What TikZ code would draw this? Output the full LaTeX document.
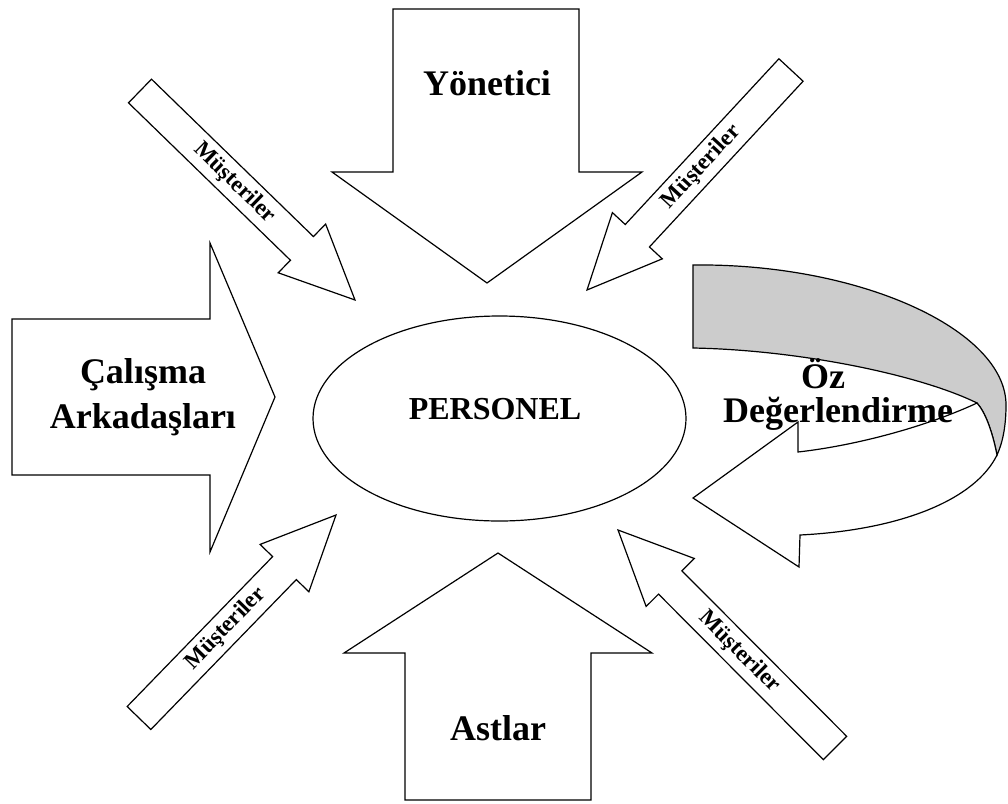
\documentclass[tikz,border=0pt]{standalone}
\usepackage{fontspec}
\setmainfont{Liberation Serif}
\usetikzlibrary{calc,shapes.geometric}

% diagonal arrow: tail, tip, node name, label
\newcommand{\musarrow}[4]{%
  \path let \p1=($(#2)-(#1)$) in \pgfextra{\xdef\musdx{\x1}\xdef\musdy{\y1}};
  \pgfmathsetmacro\musang{atan2(\musdy,\musdx)}
  \pgfmathsetmacro\muslen{veclen(\musdx,\musdy)}
  \pgfmathsetmacro\mushead{\muslen-74}
  \pgfmathsetmacro\muspos{0.44*\muslen}
  \pgfmathsetmacro\mustext{\musang>90 ? \musang-180 : (\musang<-90 ? \musang+180 : \musang)}
  \begin{scope}[shift={(#1)},rotate=\musang]
    \draw[blockarrow] (0pt,-16.5pt) -- (\mushead pt,-16.5pt) -- (\mushead pt,-34pt) -- (\muslen pt,0pt)
      -- (\mushead pt,34pt) -- (\mushead pt,16.5pt) -- (0pt,16.5pt) -- cycle;
    \node[smalltext,rotate=\mustext] (#3) at (\muspos pt,0pt) {#4};
  \end{scope}}

\begin{document}
\begin{tikzpicture}[x=1pt,y=-1pt,
    blockarrow/.style={draw=black,fill=white,line width=1.2pt},
    ribbonback/.style={draw=black,fill=gray!40,line width=1.2pt},
    bigtext/.style={font=\fontsize{36}{45}\selectfont\bfseries},
    midtext/.style={font=\fontsize{32}{36}\selectfont\bfseries},
    smalltext/.style={font=\fontsize{23}{25}\selectfont\bfseries,inner sep=0pt}]
  \useasboundingbox (0,0) rectangle (1008,803);

  % big arrows
  \draw[blockarrow] (393,9) -- (579,9) -- (579,172) -- (642,172) -- (487,283) -- (332,172) -- (393,172) -- cycle;
  \node[bigtext,anchor=base] (yonetici) at (487,95) {Yönetici};
  \draw[blockarrow] (405,800) -- (591,800) -- (591,653) -- (652,653) -- (498,553) -- (344,653) -- (405,653) -- cycle;
  \node[bigtext,anchor=base] (astlar) at (498,740) {Astlar};
  \draw[blockarrow] (12,319) -- (210,319) -- (210,243) -- (275,397) -- (210,552) -- (210,475) -- (12,475) -- cycle;
  \node[bigtext,align=center] (calisma) at (143,397) {Çalışma\\Arkadaşları};

  % center
  \node[draw,ellipse,line width=1.2pt,minimum width=373pt,minimum height=205pt,inner sep=0pt] (personel) at (499.5,418.5) {};
  \node[midtext,anchor=base] (personeltext) at (495,419) {PERSONEL};

  % müşteriler
  \coordinate (tl-tail) at (140,91);
  \coordinate (tl-tip) at (355,300);
  \coordinate (tr-tail) at (791,70);
  \coordinate (tr-tip) at (587,290);
  \coordinate (bl-tail) at (139,718);
  \coordinate (bl-tip) at (336,515);
  \coordinate (br-tail) at (835,748);
  \coordinate (br-tip) at (618,530);
  \musarrow{tl-tail}{tl-tip}{mustl}{Müşteriler}
  \musarrow{tr-tail}{tr-tip}{mustr}{Müşteriler}
  \musarrow{bl-tail}{bl-tip}{musbl}{Müşteriler}
  \musarrow{br-tail}{br-tip}{musbr}{Müşteriler}

  % öz değerlendirme ribbon
  \coordinate (oa) at (693,265);
  \coordinate (ob) at (693,348);
  \coordinate (or) at (1006,405);
  \coordinate (of) at (997,455);
  \coordinate (og) at (977,403);
  \coordinate (oh) at (798,452);
  \coordinate (ok) at (800,535);
  \coordinate (ot) at (693,498);
  \filldraw[ribbonback] (oa) .. controls (860,263) and (1006,330) .. (or)
    .. controls (1006,425) and (1003,442) .. (of)
    .. controls (992,430) and (985,412) .. (og)
    .. controls (920,375) and (800,350) .. (ob) -- cycle;
  \filldraw[blockarrow] (og) .. controls (930,425) and (860,445) .. (oh) -- (798,422) -- (ot) -- (799,567) -- (ok)
    .. controls (900,530) and (975,500) .. (of)
    .. controls (992,430) and (985,412) .. (og) -- cycle;
  \node[bigtext,anchor=base] (oz) at (823,388) {Öz};
  \node[bigtext,anchor=base] (deger) at (838,422) {Değerlendirme};
\end{tikzpicture}
\end{document}
